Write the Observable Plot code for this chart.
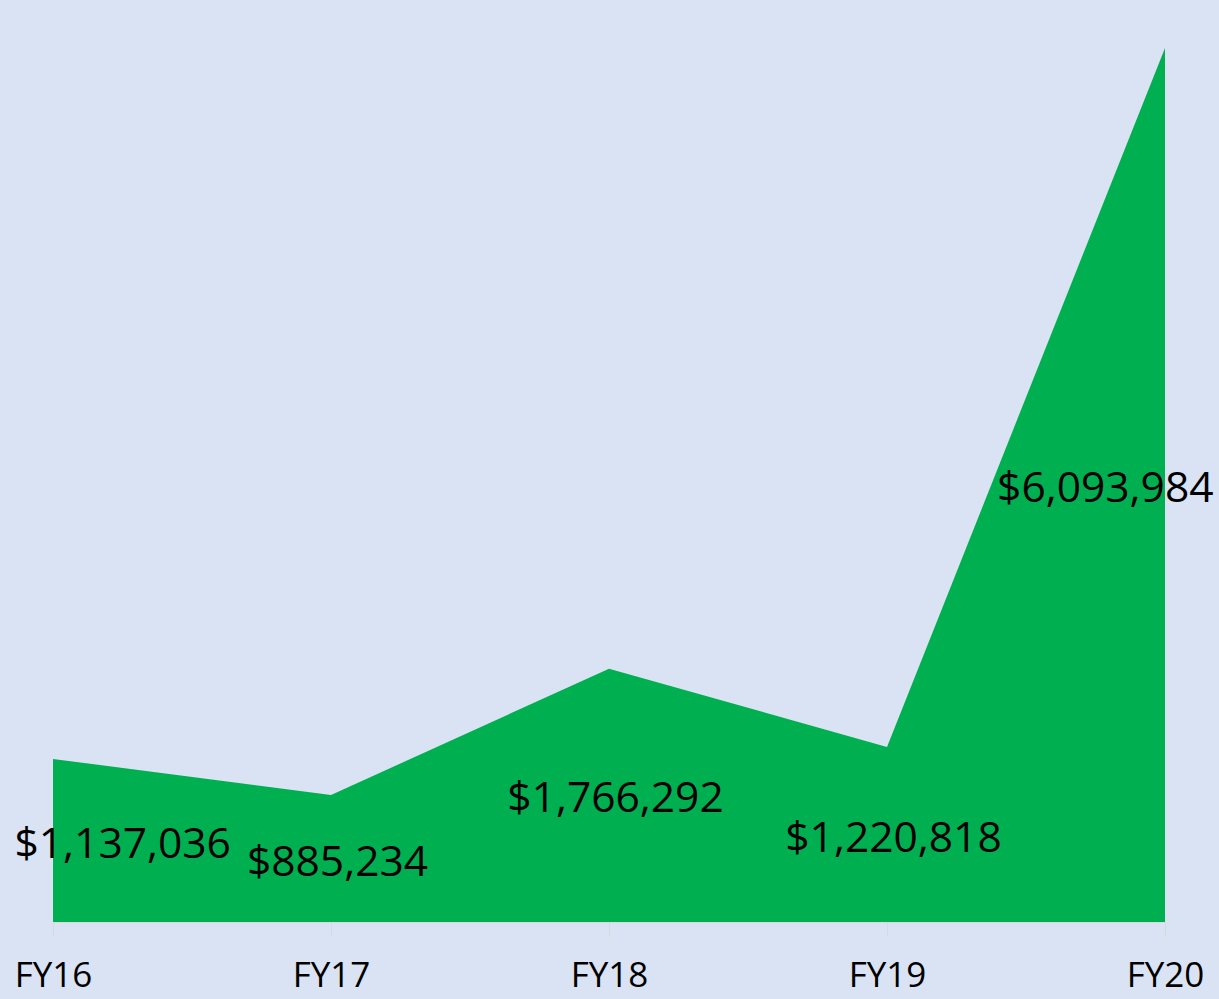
<!DOCTYPE html>
<html>
<head>
<meta charset="utf-8">
<script src="https://cdn.jsdelivr.net/npm/d3@7"></script>
<script src="https://cdn.jsdelivr.net/npm/@observablehq/plot@0.6"></script>
<style>
  html, body { margin: 0; padding: 0; background: #dae3f3; }
  #chart svg { display: block; }
</style>
</head>
<body>
<div id="chart"></div>
<script>
const years = ["FY16", "FY17", "FY18", "FY19", "FY20"];
const amounts = [1137036, 885234, 1766292, 1220818, 6093984];

const data = years.map((y, i) => ({year: y, amount: amounts[i]}));
const fmt = d => "$" + d3.format(",")(d);
const font = "'Open Sans', sans-serif";

const first = data.slice(0, 1);
const middle = data.slice(1, -1);
const last = data.slice(-1);

const labelOpts = {
  x: "year",
  y: d => d.amount / 2,
  text: d => fmt(d.amount),
  fontSize: 42.5,
  fill: "#000",
  lineAnchor: "middle",
  dy: 3
};

const chart = Plot.plot({
  width: 1219,
  height: 999,
  marginTop: 48,
  marginBottom: 77,
  marginLeft: 53,
  marginRight: 54,
  style: {background: "#dae3f3", fontFamily: font, overflow: "visible"},
  x: {type: "point", domain: years, padding: 0, label: null},
  y: {domain: [0, 6093984], axis: null},
  marks: [
    Plot.areaY(data, {x: "year", y: "amount", fill: "#00b050", curve: "linear"}),
    Plot.ruleY([0], {stroke: "#d9d9d9", strokeWidth: 1}),
    Plot.axisX({
      tickSize: 14,
      tickPadding: 26,
      stroke: "#d9d9d9",
      fontSize: 35,
      fill: "#000",
      label: null
    }),
    Plot.text(first, {...labelOpts, textAnchor: "start", dx: -39}),
    Plot.text(middle, {...labelOpts, textAnchor: "middle", dx: 6}),
    Plot.text(last, {...labelOpts, textAnchor: "end", dx: 48})
  ]
});

document.getElementById("chart").appendChild(chart);
</script>
</body>
</html>
